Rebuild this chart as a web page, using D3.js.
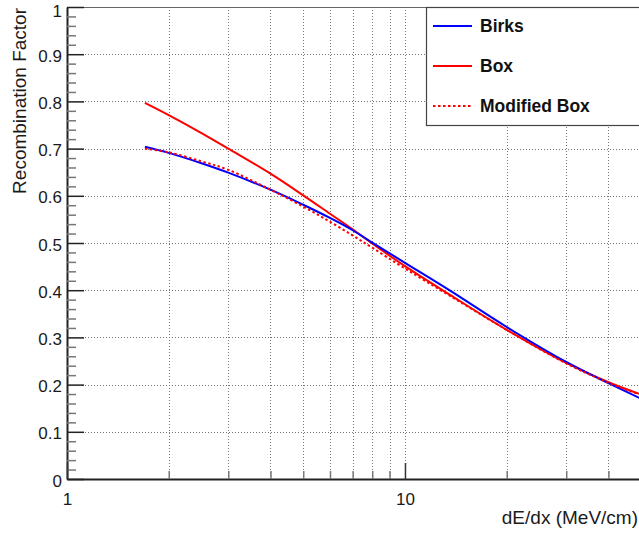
<!DOCTYPE html>
<html>
<head>
<meta charset="utf-8">
<script src="https://cdn.jsdelivr.net/npm/d3@7"></script>
<style>
  html, body { margin: 0; padding: 0; background: #fff; }
  svg { display: block; font-family: "Liberation Sans", Arial, Helvetica, sans-serif; }
</style>
</head>
<body>
<svg id="chart" width="639" height="534"></svg>
<script>
// ---- data ----
const dEdx   = [1.7, 2, 2.5, 3, 4, 5, 6, 7, 8, 10, 13.6, 20, 30, 40, 50];
const birks  = [0.704, 0.691, 0.669, 0.649, 0.613, 0.581, 0.553, 0.527, 0.501, 0.458, 0.399, 0.322, 0.248, 0.203, 0.170];
const box    = [0.797, 0.771, 0.733, 0.700, 0.647, 0.601, 0.562, 0.529, 0.499, 0.451, 0.390, 0.316, 0.246, 0.205, 0.179];
const modBox = [0.700, 0.692, 0.673, 0.655, 0.613, 0.577, 0.545, 0.516, 0.490, 0.446, 0.388, 0.316, 0.245, 0.204, 0.178];

const seriesNames = ["Birks", "Box", "Modified Box"];
const seriesColors = ["#0000ff", "#ff0000", "#ff0000"];
const seriesDash = [null, null, "2.5 2.5"];

const xDomain = [1, 50];
const yDomain = [0, 1];
const xMajorTicks = [1, 10];
const xMinorTicks = [2, 3, 4, 5, 6, 7, 8, 9, 20, 30, 40];
const xGridTicks = [2, 3, 4, 5, 6, 7, 8, 9, 10, 20, 30, 40];
const yMajorTicks = [0, 0.1, 0.2, 0.3, 0.4, 0.5, 0.6, 0.7, 0.8, 0.9, 1];
const yMinorTicks = d3.range(0, 1.0001, 0.02).filter(v => Math.abs(Math.round(v * 10) - v * 10) > 1e-6);
const yGridTicks = [0.1, 0.2, 0.3, 0.4, 0.5, 0.6, 0.7, 0.8, 0.9];

const xTitle = "dE/dx (MeV/cm)";
const yTitle = "Recombination Factor";

// ---- layout ----
const L = 67, R = 641.2, T = 7, B = 479;
const svg = d3.select("#chart");
const x = d3.scaleLog().domain(xDomain).range([L, R]);
const y = d3.scaleLinear().domain(yDomain).range([B, T]);

const textColor = "#1a1a1a";

// grid
const grid = svg.append("g").attr("stroke", "#777").attr("stroke-width", 1).attr("stroke-dasharray", "1 2");
grid.selectAll("line.gx").data(xGridTicks).join("line")
  .attr("x1", d => Math.round(x(d)) + 0.5).attr("x2", d => Math.round(x(d)) + 0.5)
  .attr("y1", T).attr("y2", B);
grid.selectAll("line.gy").data(yGridTicks).join("line")
  .attr("x1", L).attr("x2", R)
  .attr("y1", d => Math.round(y(d)) + 0.5).attr("y2", d => Math.round(y(d)) + 0.5);

// curves
const allSeries = [birks, box, modBox];
const line = d3.line()
  .x((d, i) => x(dEdx[i]))
  .y(d => y(d))
  .curve(d3.curveCatmullRom.alpha(0.5));

const clipId = "plotclip";
svg.append("clipPath").attr("id", clipId).append("rect")
  .attr("x", L).attr("y", T).attr("width", R - L).attr("height", B - T);

const curves = svg.append("g").attr("clip-path", `url(#${clipId})`);
[1, 0, 2].forEach(k => {
  curves.append("path")
    .datum(allSeries[k])
    .attr("d", line)
    .attr("fill", "none")
    .attr("stroke", seriesColors[k])
    .attr("stroke-width", 2)
    .attr("stroke-dasharray", seriesDash[k]);
});

// frame top
svg.append("line").attr("x1", L).attr("x2", R).attr("y1", T + 0.5).attr("y2", T + 0.5)
  .attr("stroke", "#666").attr("stroke-width", 1);

// y axis (major)
const yAxis = d3.axisLeft(y).tickValues(yMajorTicks)
  .tickFormat(d => d === 0 ? "0" : d === 1 ? "1" : d3.format(".1f")(d))
  .tickSizeInner(-17).tickSizeOuter(0).tickPadding(5);
const gy = svg.append("g").attr("transform", `translate(${L},0)`).call(yAxis);
gy.select(".domain").attr("stroke", "#222").attr("stroke-width", 2);
gy.selectAll(".tick line").attr("stroke", "#222").attr("stroke-width", 1.5);
gy.selectAll(".tick text").attr("font-size", 17).attr("fill", textColor)
  .attr("font-family", "Liberation Sans, Arial, sans-serif")
  .attr("dy", d => d === 1 ? "0.55em" : "0.42em");

// y axis (minor)
const yMinor = d3.axisLeft(y).tickValues(yMinorTicks).tickFormat("")
  .tickSizeInner(-9).tickSizeOuter(0);
const gym = svg.append("g").attr("transform", `translate(${L},0)`).call(yMinor);
gym.select(".domain").remove();
gym.selectAll(".tick line").attr("stroke", "#777").attr("stroke-width", 1.5);

// x axis (major)
const xAxis = d3.axisBottom(x).tickValues(xMajorTicks).tickFormat(d3.format("d"))
  .tickSizeInner(-16).tickSizeOuter(0).tickPadding(14);
const gx = svg.append("g").attr("transform", `translate(0,${B})`).call(xAxis);
gx.select(".domain").attr("stroke", "#222").attr("stroke-width", 2);
gx.selectAll(".tick line").attr("stroke", "#333").attr("stroke-width", 1.5);
gx.selectAll(".tick text").attr("font-size", 17).attr("fill", textColor)
  .attr("font-family", "Liberation Sans, Arial, sans-serif");

// x axis (minor)
const xMinor = d3.axisBottom(x).tickValues(xMinorTicks).tickFormat("")
  .tickSizeInner(-8).tickSizeOuter(0);
const gxm = svg.append("g").attr("transform", `translate(0,${B})`).call(xMinor);
gxm.select(".domain").remove();
gxm.selectAll(".tick line").attr("stroke", "#777").attr("stroke-width", 1.5);

// axis titles
svg.append("text")
  .attr("x", 638).attr("y", 524)
  .attr("text-anchor", "end")
  .attr("font-size", 19).attr("fill", textColor)
  .text(xTitle);

svg.append("text")
  .attr("transform", `translate(26,8) rotate(-90)`)
  .attr("text-anchor", "end")
  .attr("font-size", 19).attr("fill", textColor)
  .text(yTitle);

// legend
const lg = svg.append("g");
lg.append("rect")
  .attr("x", 426.5).attr("y", T + 0.5).attr("width", 240).attr("height", 125 - T)
  .attr("fill", "#fff").attr("stroke", "#444").attr("stroke-width", 1.2);
const legendRowsY = [26, 66, 106];
seriesNames.forEach((name, k) => {
  lg.append("line")
    .attr("x1", 433).attr("x2", 472)
    .attr("y1", legendRowsY[k]).attr("y2", legendRowsY[k])
    .attr("stroke", seriesColors[k]).attr("stroke-width", 2)
    .attr("stroke-dasharray", seriesDash[k]);
  lg.append("text")
    .attr("x", 480).attr("y", legendRowsY[k]).attr("dy", "0.36em")
    .attr("font-size", 17.5).attr("font-weight", "bold").attr("fill", "#111")
    .text(name);
});
</script>
</body>
</html>
